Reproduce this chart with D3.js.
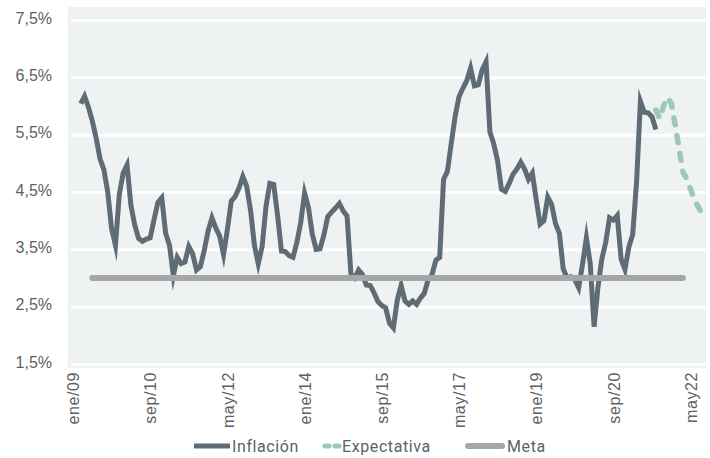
<!DOCTYPE html>
<html>
<head>
<meta charset="utf-8">
<script src="https://cdn.jsdelivr.net/npm/d3@7"></script>
<style>
  body { margin: 0; background: #ffffff; }
  svg { display: block; font-family: Roboto, "Noto Sans", sans-serif; }
  .label { fill: #5d6167; font-size: 16px; }
</style>
</head>
<body>
<script>
"use strict";

// monthly axis, ene/09 .. sep/22
let monthNames = ["ene", "feb", "mar", "abr", "may", "jun", "jul", "ago", "sep", "oct", "nov", "dic"];
let months = d3.timeMonth.range(new Date(2009, 0, 1), new Date(2022, 9, 1))
    .map(d => monthNames[d.getMonth()] + "/" + String(d.getFullYear()).slice(2));

// tick labels shown on the x axis (as in the source, "may22" has no slash)
let tickMonths = ["ene/09", "sep/10", "may/12", "ene/14", "sep/15", "may/17", "ene/19", "sep/20", "may/22"];
let tickLabels = ["ene/09", "sep/10", "may/12", "ene/14", "sep/15", "may/17", "ene/19", "sep/20", "may22"];

let yTicks = [1.5, 2.5, 3.5, 4.5, 5.5, 6.5, 7.5];

// annual inflation (%), mar/09 .. ago/21
let inflationStart = "mar/09";
let inflation = [
  6.04, 6.17, 5.98, 5.74, 5.44, 5.08, 4.89, 4.50, 3.86, 3.57,
  4.46, 4.83, 4.97, 4.27, 3.92, 3.69, 3.64, 3.68, 3.70, 4.02, 4.32, 4.40,
  3.78, 3.57, 3.04, 3.36, 3.25, 3.28, 3.55, 3.42, 3.14, 3.20, 3.48, 3.82,
  4.05, 3.87, 3.73, 3.41, 3.85, 4.34, 4.42, 4.57, 4.77, 4.60, 4.18, 3.57,
  3.25, 3.55, 4.25, 4.65, 4.63, 4.09, 3.47, 3.46, 3.39, 3.36, 3.62, 3.97,
  4.48, 4.23, 3.76, 3.50, 3.51, 3.75, 4.07, 4.15, 4.22, 4.30, 4.17, 4.08,
  3.07, 3.00, 3.14, 3.06, 2.88, 2.87, 2.74, 2.59, 2.52, 2.48, 2.21, 2.13,
  2.61, 2.87, 2.60, 2.54, 2.60, 2.54, 2.65, 2.73, 2.97, 3.06, 3.31, 3.36,
  4.72, 4.86, 5.35, 5.82, 6.16, 6.31, 6.44, 6.66, 6.35, 6.37, 6.63, 6.77,
  5.55, 5.34, 5.04, 4.55, 4.51, 4.65, 4.81, 4.90, 5.02, 4.90, 4.72, 4.83,
  4.37, 3.94, 4.00, 4.41, 4.28, 3.95, 3.78, 3.16, 3.00, 3.02, 2.97, 2.83,
  3.24, 3.70, 3.25, 2.15, 2.84, 3.33, 3.62, 4.05, 4.01, 4.09, 3.33, 3.15,
  3.54, 3.76, 4.67, 6.08, 5.89, 5.88, 5.81, 5.59
];

// expected inflation (%), ago/21 .. ago/22
let expectationStart = "ago/21";
let expectation = [5.93, 5.78, 6.00, 6.15, 6.05, 5.67, 5.27, 4.85, 4.73, 4.55, 4.36, 4.24, 4.12];

// inflation target
let metaMonths = ["jun/09", "mar/22"];
let metaValue = 3;

let seriesNames = ["Inflación", "Expectativa", "Meta"];
let colors = { inflation: "#5f6c75", expectation: "#9dc8b7", meta: "#a6a6a6" };

function toPoints(start, values) {
  let i0 = months.indexOf(start);
  return values.map((v, i) => [months[i0 + i], v]);
}

let width = 710, height = 458;
let plot = { left: 68, right: 706, top: 7, bottom: 368 };

let svg = d3.select("body").append("svg")
    .attr("width", width)
    .attr("height", height);

let x = d3.scalePoint()
    .domain(months)
    .range([73, 73 + (months.length - 1) * 3.86]);
let y = d3.scaleLinear()
    .domain([1.5, 7.5])
    .range([364, 20]);

// plot background
svg.append("rect")
    .attr("x", plot.left)
    .attr("y", plot.top)
    .attr("width", plot.right - plot.left)
    .attr("height", plot.bottom - plot.top)
    .attr("fill", "#eef2f3");

// horizontal grid + y labels
let yAxis = svg.append("g")
    .attr("transform", "translate(" + (plot.left + 3) + ",0)")
    .call(d3.axisLeft(y)
        .tickValues(yTicks)
        .tickSize(-(plot.right - plot.left - 3))
        .tickPadding(19)
        .tickFormat(d => d.toFixed(1).replace(".", ",") + "%"));
yAxis.select(".domain").remove();
yAxis.selectAll(".tick line").attr("stroke", "#ffffff").attr("stroke-width", 3);
yAxis.selectAll(".tick text")
    .attr("class", "label")
    .attr("dy", "0.2em")
    .attr("font-family", null)
    .attr("font-size", null)
    .attr("fill", null);

// x labels, rotated
let xAxis = svg.append("g")
    .attr("transform", "translate(0," + (plot.bottom + 4) + ")")
    .call(d3.axisBottom(x)
        .tickValues(tickMonths)
        .tickSize(0)
        .tickFormat((d, i) => tickLabels[i]));
xAxis.select(".domain").remove();
xAxis.selectAll(".tick text")
    .attr("class", "label")
    .attr("font-family", null)
    .attr("font-size", null)
    .attr("fill", null)
    .attr("y", 0)
    .attr("dy", "0.35em")
    .attr("text-anchor", "end")
    .attr("transform", "rotate(-90)")
    .style("letter-spacing", "0.6px");

let line = d3.line()
    .x(d => x(d[0]))
    .y(d => y(d[1]));

// inflation
svg.append("path")
    .datum(toPoints(inflationStart, inflation))
    .attr("d", line)
    .attr("fill", "none")
    .attr("stroke", colors.inflation)
    .attr("stroke-width", 5)
    .attr("stroke-linejoin", "miter")
    .attr("stroke-miterlimit", 10);

// target line
svg.append("path")
    .datum(metaMonths.map(m => [m, metaValue]))
    .attr("d", line)
    .attr("fill", "none")
    .attr("stroke", colors.meta)
    .attr("stroke-width", 6)
    .attr("stroke-linecap", "round");

// expectation, dashed
svg.append("path")
    .datum(toPoints(expectationStart, expectation))
    .attr("d", line)
    .attr("fill", "none")
    .attr("stroke", colors.expectation)
    .attr("stroke-width", 5.5)
    .attr("stroke-linecap", "round")
    .attr("stroke-linejoin", "round")
    .attr("stroke-dasharray", "7,11");

// legend, items placed where the source puts them
let legend = svg.append("g").attr("transform", "translate(0,446)");
let legendX = [194, 322, 465];
let symbolWidths = [36, 18, 40];
seriesNames.forEach(function(name, i) {
  let g = legend.append("g").attr("transform", "translate(" + legendX[i] + ",0)");
  if (i === 1) {
    g.append("line")
        .attr("x1", 3).attr("x2", 17)
        .attr("stroke", colors.expectation)
        .attr("stroke-width", 5)
        .attr("stroke-linecap", "round")
        .attr("stroke-dasharray", "4,6");
  } else {
    g.append("line")
        .attr("x1", i === 0 ? 0 : 3).attr("x2", symbolWidths[i] - (i === 0 ? 0 : 3))
        .attr("stroke", i === 0 ? colors.inflation : colors.meta)
        .attr("stroke-width", i === 0 ? 5 : 6)
        .attr("stroke-linecap", i === 0 ? "butt" : "round");
  }
  g.append("text")
      .attr("class", "label")
      .attr("x", symbolWidths[i] + 2)
      .attr("dy", "0.35em")
      .style("letter-spacing", "0.6px")
      .text(name);
});
</script>
</body>
</html>
